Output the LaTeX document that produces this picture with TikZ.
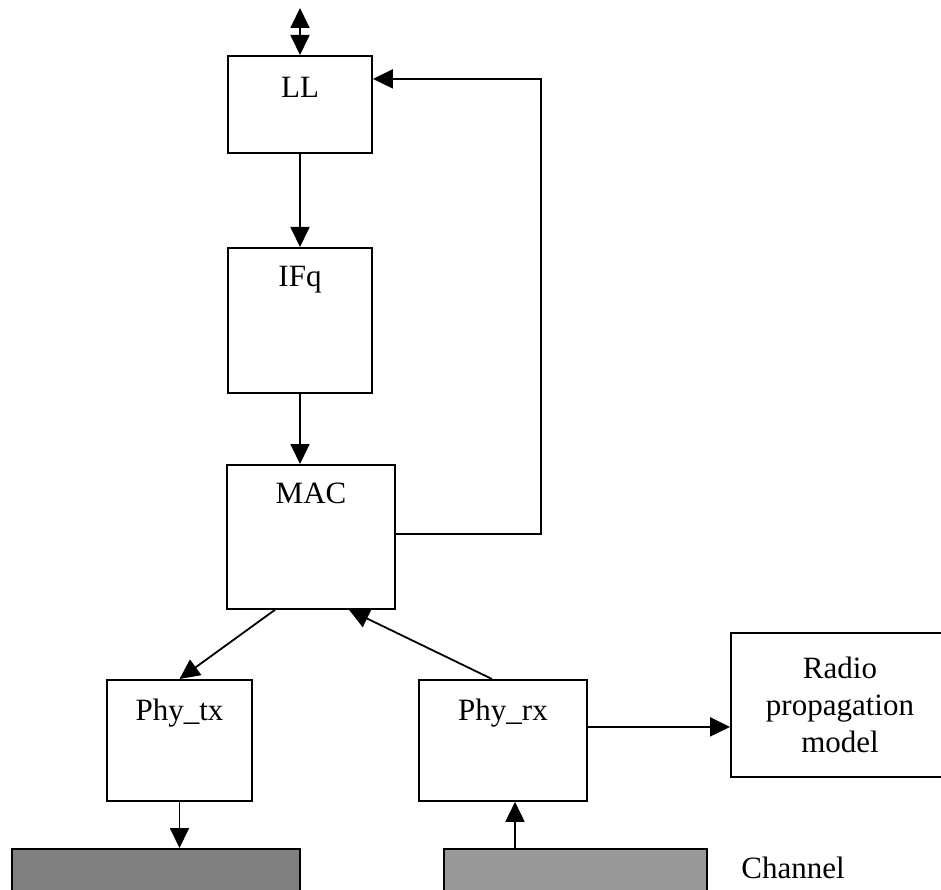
\documentclass[tikz,border=0pt]{standalone}
\usepackage{fontspec}
\setmainfont{Liberation Serif}
\usepackage{tikz}
\usetikzlibrary{arrows.meta, positioning}
\definecolor{darkchan}{RGB}{128,128,128}
\definecolor{lightchan}{RGB}{153,153,153}

\begin{document}
\begin{tikzpicture}[
    x=1pt, y=-1pt,
    font=\fontsize{31}{37}\selectfont,
    box/.style={rectangle, draw, line width=1.8pt, anchor=north, inner xsep=0pt, inner ysep=0pt, align=center},
    chan/.style={rectangle, draw, line width=1.8pt, anchor=north, minimum height=60pt},
    arrow/.style={-{Triangle[length=20pt,width=19pt]}, line width=1.8pt}
]
\clip (0,0) rectangle (941,890);
% protocol stack
\node[box, minimum width=144pt, text height=42pt, text depth=55pt] (ll) at (300,55) {LL};
\node[box, minimum width=144pt, text height=39pt, text depth=106pt] (ifq) at (300,247) {IFq};
\node[box, minimum width=168pt, text height=39pt, text depth=105pt] (mac) at (311,464) {MAC};
\node[box, minimum width=145pt, text height=41pt, text depth=80pt] (phytx) at (179.5,679) {Phy\_tx};
\node[box, minimum width=168pt, text height=41pt, text depth=80pt] (phyrx) at (503,679) {Phy\_rx};
\node[box, minimum width=218pt, minimum height=144pt] (radio) at (840,632) {Radio\\propagation\\model};
% channel
\node[chan, fill=darkchan, minimum width=288pt] (chtx) at (156,848) {};
\node[chan, fill=lightchan, minimum width=263pt] (chrx) at (575.5,848) {};
\node (chlabel) at (793,868) {Channel};
\coordinate (upper) at (300,8);

\draw[arrow, {Triangle[length=20pt,width=19pt]}-{Triangle[length=20pt,width=19pt]}] (upper) -- (ll.north);
\draw[arrow] (ll.south) -- (ifq.north);
\draw[arrow] (ifq.south) -- (ifq.south |- mac.north);
\draw[arrow] ([yshift=3pt]mac.east) -- ++(145,0) |- ([yshift=25.5pt]ll.east);
\draw[arrow] ([xshift=-36pt]mac.south) -- (phytx.north);
\draw[arrow] ([xshift=-11pt]phyrx.north) -- ([xshift=38pt]mac.south);
\draw[arrow] ([yshift=13.5pt]phyrx.east) -- ([yshift=13.5pt]phyrx.east -| radio.west);
\draw[arrow] (phytx.south) -- (phytx.south |- chtx.north);
\draw[arrow] ([xshift=12pt]phyrx.south |- chrx.north) -- ([xshift=12pt]phyrx.south);
\end{tikzpicture}
\end{document}
